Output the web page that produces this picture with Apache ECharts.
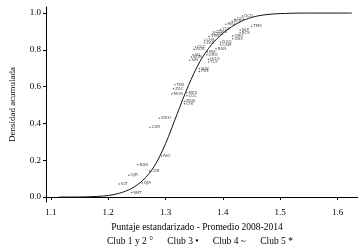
<!DOCTYPE html>
<html><head><meta charset="utf-8">
<script src="https://cdn.jsdelivr.net/npm/echarts@6/dist/echarts.min.js"></script>
<style>html,body{margin:0;padding:0;background:#fff}#c{width:358px;height:247px}</style>
</head><body><div id="c"></div>
<script>
const curveX = [1.114,1.14,1.16,1.18,1.20,1.22,1.24,1.26,1.28,1.30,1.32,1.34,1.36,1.38,1.40,1.42,1.44,1.46,1.48,1.50,1.54,1.625];
const curveY = [0,0,0.001,0.003,0.008,0.021,0.045,0.09,0.165,0.29,0.45,0.607,0.737,0.828,0.89,0.935,0.966,0.984,0.993,0.997,1.0,1.0];
const pointLabels = ["SLT","SMT","QJR","QJR","CAR","BAN","RIO","CAR","IDEH","MOR","ZAC","TAB","MEX","COL","BAJA","CHI","NAY","PUE","SIN","SON","JAL","AGS","CCC","TLX","HGO","GRO","MIC","BAN","DGO","CAM","QRO","OAX","NLE","BCS","TMS","CHS","ZAC","VER","COA","CDMX","YUC","MAJ","SLP","COL","DCO"];
const pointX = [1.219,1.241,1.236,1.259,1.272,1.252,1.293,1.273,1.289,1.311,1.314,1.316,1.337,1.337,1.333,1.333,1.359,1.359,1.342,1.345,1.348,1.350,1.352,1.375,1.375,1.372,1.373,1.388,1.396,1.396,1.417,1.417,1.430,1.430,1.450,1.368,1.368,1.376,1.382,1.384,1.396,1.405,1.416,1.421,1.434];
const pointY = [0.071,0.024,0.118,0.076,0.140,0.176,0.223,0.379,0.428,0.562,0.589,0.611,0.567,0.550,0.520,0.507,0.698,0.683,0.743,0.761,0.774,0.803,0.815,0.734,0.748,0.774,0.788,0.807,0.842,0.828,0.875,0.861,0.906,0.893,0.928,0.852,0.839,0.873,0.888,0.897,0.911,0.939,0.955,0.966,0.984];
const xTicks = [1.1,1.2,1.3,1.4,1.5,1.6];
const yTicks = [0,0.2,0.4,0.6,0.8,1.0];
const legendText = ['Club 1 y 2 °','Club 3 •','Club 4 ~','Club 5 *'];

const font = "Liberation Serif";
const chart = echarts.init(document.getElementById('c'), null, {renderer:'canvas'});
chart.setOption({
  animation:false,
  grid:{left:37,top:7,right:0,bottom:45,containLabel:false},
  xAxis:{type:'value',min:1.0915,max:1.6356,
    axisLine:{lineStyle:{color:'#000',width:1}},
    axisTick:{customValues:xTicks,length:3,lineStyle:{color:'#000'}},
    axisLabel:{customValues:xTicks,formatter:v=>v.toFixed(1),color:'#000',fontFamily:font,fontSize:9,margin:6},
    splitLine:{show:false},
    name:'Puntaje estandarizado - Promedio 2008-2014',nameLocation:'middle',nameGap:20,
    nameTextStyle:{color:'#000',fontFamily:font,fontSize:9.5,padding:[0,0,0,-10]}},
  yAxis:{type:'value',min:-0.027,max:1.033,
    axisLine:{show:true,lineStyle:{color:'#000',width:1}},
    axisTick:{show:true,customValues:yTicks,length:3,lineStyle:{color:'#000'}},
    axisLabel:{customValues:yTicks,formatter:v=>v.toFixed(1),color:'#000',fontFamily:font,fontSize:9,margin:5},
    splitLine:{show:false},
    name:'Densidad acumulada',nameLocation:'middle',nameGap:29,
    nameTextStyle:{color:'#000',fontFamily:font,fontSize:9}},
  graphic:[{type:'text',left:107,top:236,style:{text:legendText.join('      '),fill:'#000',font:'9.5px "Liberation Serif"'}}],
  series:[
    {type:'line',data:curveX.map((x,i)=>[x,curveY[i]]),smooth:0.3,showSymbol:false,
     lineStyle:{color:'#111',width:1}},
    {type:'scatter',data:pointX.map((x,i)=>[x,pointY[i],pointLabels[i]]),symbolSize:1.5,
     itemStyle:{color:'#333'},
     label:{show:true,position:'right',distance:1,formatter:p=>p.data[2],fontSize:4,color:'#222',fontFamily:'DejaVu Sans'}}
  ]
});
</script></body></html>
